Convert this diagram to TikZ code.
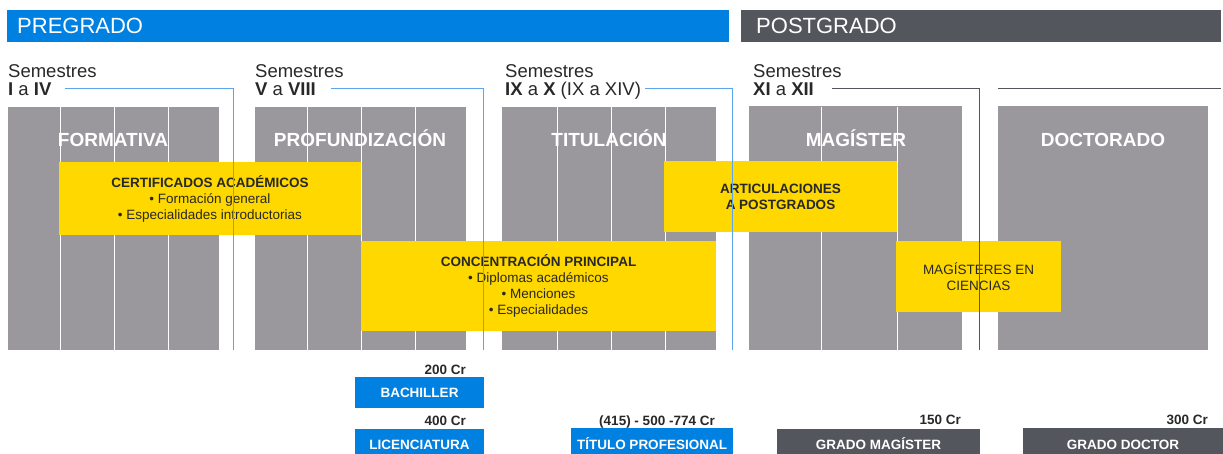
\documentclass[tikz,border=0pt]{standalone}
\usepackage{fontspec}
\setmainfont{Liberation Sans}
\usepackage{xcolor}

\definecolor{pregblue}{RGB}{0,128,224}
\definecolor{postgray}{RGB}{84,86,94}
\definecolor{blockgray}{RGB}{154,152,157}
\definecolor{ambar}{RGB}{255,216,0}
\definecolor{linkblue}{RGB}{90,165,235}
\definecolor{inkdark}{RGB}{40,40,40}

\begin{document}
\begin{tikzpicture}[x=1pt, y=-1pt,
    header/.style={rectangle, inner ysep=0pt, minimum height=32pt, anchor=north west, align=left, text=white, font=\fontsize{22}{24}\selectfont},
    semlabel/.style={inner sep=0pt, anchor=base west, text=inkdark, font=\fontsize{18.5}{20}\selectfont},
    rangelabel/.style={semlabel, text height=13pt, text depth=0pt},
    block/.style={rectangle, fill=blockgray, inner sep=0pt, anchor=north west},
    blocktitle/.style={inner sep=0pt, text height=13.6pt, text depth=0pt, text=white, font=\bfseries\fontsize{19}{22}\selectfont},
    divider/.style={white, line width=1pt},
    yellowbox/.style={rectangle, fill=ambar, inner sep=0pt, align=center, text=inkdark, font=\fontsize{13.5}{16}\selectfont},
    bracket/.style={line width=1pt},
    credit/.style={inner sep=0pt, anchor=base east, text=inkdark, font=\bfseries\fontsize{13.5}{15}\selectfont},
    degree/.style={rectangle, inner sep=0pt, text height=9.7pt, text depth=0pt, text=white, font=\bfseries\fontsize{13.5}{15}\selectfont}]

    \useasboundingbox (0,0) rectangle (1223,453);

    % Headers
    \node[header, fill=pregblue, inner xsep=10pt, text width=702pt] (pregrado) at (7,10) {PREGRADO};
    \node[header, fill=postgray, inner xsep=15pt, text width=450pt] (postgrado) at (741,10) {POSTGRADO};

    % Semester labels
    \node[semlabel] (sem1) at (8,77) {Semestres};
    \node[rangelabel] (rng1) at (8,95) {\textbf{I} a \textbf{IV}};
    \node[semlabel] (sem2) at (255,77) {Semestres};
    \node[rangelabel] (rng2) at (255,95) {\textbf{V} a \textbf{VIII}};
    \node[semlabel] (sem3) at (505,77) {Semestres};
    \node[rangelabel] (rng3) at (505,95) {\textbf{IX} a \textbf{X} (IX a XIV)};
    \node[semlabel] (sem4) at (753,77) {Semestres};
    \node[rangelabel] (rng4) at (753,95) {\textbf{XI} a \textbf{XII}};

    % Stage blocks
    \node[block, minimum width=211pt, minimum height=243pt] (formativa) at (8,107) {};
    \node[block, minimum width=211pt, minimum height=243pt] (profund) at (255,107) {};
    \node[block, minimum width=214pt, minimum height=243pt] (titulacion) at (502,107) {};
    \node[block, minimum width=213pt, minimum height=244pt] (magister) at (749,106) {};
    \node[block, minimum width=210pt, minimum height=244pt] (doctorado) at (998,106) {};

    % Semester dividers
    \foreach \x in {60,114,168,307,361,415,557,611,665,821,897}
        \draw[divider] (\x,107) -- (\x,350);

    % Block titles
    \node[blocktitle] (tform) at (113,140) {FORMATIVA};
    \node[blocktitle] (tprof) at (360,140) {PROFUNDIZACIÓN};
    \node[blocktitle] (ttit) at (609,140) {TITULACIÓN};
    \node[blocktitle] (tmag) at (856,140) {MAGÍSTER};
    \node[blocktitle] (tdoc) at (1103,140) {DOCTORADO};

    % Programs
    \node[yellowbox, minimum width=302pt, minimum height=73pt] (cert) at (210,198.5)
        {\textbf{CERTIFICADOS ACADÉMICOS}\\• Formación general\\• Especialidades introductorias};
    \node[yellowbox, minimum width=355pt, minimum height=90pt] (conc) at (538.5,286)
        {\textbf{CONCENTRACIÓN PRINCIPAL}\\• Diplomas académicos\\• Menciones\\• Especialidades};
    \node[yellowbox, minimum width=233pt, minimum height=71pt] (artic) at (780.5,196.5)
        {\textbf{ARTICULACIONES}\\\textbf{A POSTGRADOS}};
    \node[yellowbox, minimum width=165pt, minimum height=71pt] (magcien) at (978.5,276.5)
        {MAGÍSTERES EN\\CIENCIAS};

    % Brackets
    \coordinate (end1) at (233,350);
    \coordinate (end2) at (483,350);
    \coordinate (end3) at (732,350);
    \coordinate (end4) at (979,350);
    \coordinate (doc1) at (998,88);
    \coordinate (doc2) at (1221,88);
    \draw[bracket, linkblue] ([xshift=13pt]rng1.east) -| (end1);
    \draw[bracket, linkblue] ([xshift=15pt]rng2.east) -| (end2);
    \draw[bracket, linkblue] ([xshift=4pt]rng3.east) -| (end3);
    \draw[bracket, postgray] ([xshift=18pt]rng4.east) -| (end4);
    \draw[bracket, postgray] (doc1) -- (doc2);

    % Degrees
    \node[credit] (cr200) at (466,374) {200 Cr};
    \node[degree, fill=pregblue, minimum width=129pt, minimum height=31pt] (bach) at (419.5,392.5) {BACHILLER};
    \node[credit] (cr400) at (466,425) {400 Cr};
    \node[degree, fill=pregblue, minimum width=129pt, minimum height=32pt] (lic) at (419.5,445) {LICENCIATURA};
    \node[credit] (crtit) at (715,425) {(415) - 500 -774 Cr};
    \node[degree, fill=pregblue, minimum width=162pt, minimum height=33pt] (tprofes) at (652,444.5) {TÍTULO PROFESIONAL};
    \node[credit] (cr150) at (961,424) {150 Cr};
    \node[degree, fill=postgray, minimum width=203pt, minimum height=32pt] (gmag) at (878.5,445) {GRADO MAGÍSTER};
    \node[credit] (cr300) at (1208,424) {300 Cr};
    \node[degree, fill=postgray, minimum width=200pt, minimum height=33pt] (gdoc) at (1123,444.5) {GRADO DOCTOR};
\end{tikzpicture}
\end{document}
